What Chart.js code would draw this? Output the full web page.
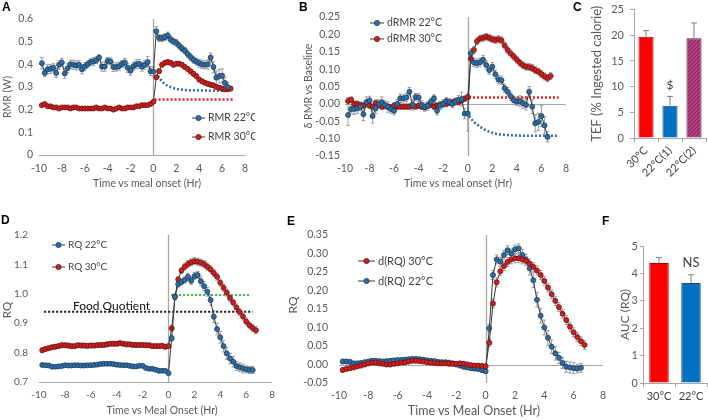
<!DOCTYPE html>
<html>
<head>
<meta charset="utf-8">
<title>Thermic effect of feeding</title>
<script src="https://cdn.jsdelivr.net/npm/chart.js@4.4.1/dist/chart.umd.min.js"></script>
<style>
  body { margin: 0; background: #fff; }
  #page { position: relative; width: 708px; height: 420px; overflow: hidden; background: #fff; font-family: Lato, "Open Sans", sans-serif; }
  #page canvas { position: absolute; }
  .tag { position: absolute; font: bold 12px Arial, sans-serif; color: #000; }
  .ax { position: absolute; color: #595959; white-space: nowrap; transform: translate(-50%, -50%); line-height: 1; }
  .ax.v { transform: translate(-50%, -50%) rotate(-90deg); }
</style>
</head>
<body>
<div id="page">
  <canvas id="chartA" width="255" height="200" style="left:0;top:0"></canvas>
  <canvas id="chartB" width="275" height="200" style="left:300px;top:0"></canvas>
  <canvas id="chartC" width="123" height="208" style="left:585px;top:-3px"></canvas>
  <canvas id="chartD" width="282" height="205" style="left:0;top:215px"></canvas>
  <canvas id="chartE" width="328" height="205" style="left:284px;top:215px"></canvas>
  <canvas id="chartF" width="98" height="205" style="left:610px;top:215px"></canvas>

  <div class="ax v" style="left:7px;top:97px;font-size:10.5px">RMR (W)</div>
  <div class="ax" style="left:147px;top:183px;font-size:10.5px">Time vs meal onset (Hr)</div>
  <div class="ax v" style="left:308px;top:86px;font-size:10.5px">δ RMR vs Baseline</div>
  <div class="ax" style="left:458px;top:183px;font-size:10.5px">Time vs meal onset (Hr)</div>
  <div class="ax v" style="left:7px;top:310px;font-size:11.5px">RQ</div>
  <div class="ax" style="left:162px;top:410px;font-size:10.5px">Time vs Meal Onset (Hr)</div>
  <div class="ax v" style="left:293px;top:305px;font-size:12px">RQ</div>
  <div class="ax" style="left:474px;top:411px;font-size:12.5px">Time vs Meal Onset (Hr)</div>

  <div class="tag" style="left:2px;top:0">A</div>
  <div class="tag" style="left:299px;top:0">B</div>
  <div class="tag" style="left:573px;top:0">C</div>
  <div class="tag" style="left:1px;top:213px">D</div>
  <div class="tag" style="left:287px;top:214px">E</div>
  <div class="tag" style="left:602px;top:214px">F</div>
</div>
<script>
// --- 1. DATA ---
// time vs meal onset (h), one reading every 15 min
const times = [
  -9.75,-9.5,-9.25,-9,-8.75,-8.5,-8.25,-8,-7.75,-7.5,
  -7.25,-7,-6.75,-6.5,-6.25,-6,-5.75,-5.5,-5.25,-5,
  -4.75,-4.5,-4.25,-4,-3.75,-3.5,-3.25,-3,-2.75,-2.5,
  -2.25,-2,-1.75,-1.5,-1.25,-1,-0.75,-0.5,-0.25,0,
  0.25,0.5,0.75,1,1.25,1.5,1.75,2,2.25,2.5,
  2.75,3,3.25,3.5,3.75,4,4.25,4.5,4.75,5,
  5.25,5.5,5.75,6,6.25,6.5,6.75
];
const timeTicks = [-10, -8, -6, -4, -2, 0, 2, 4, 6, 8];

// panel A: RMR (W)
const rmr22 = [
  0.405,0.362,0.378,0.38,0.385,0.362,0.398,0.408,0.36,0.383,
  0.4,0.398,0.395,0.398,0.378,0.39,0.4,0.41,0.412,0.418,
  0.43,0.39,0.39,0.415,0.413,0.388,0.388,0.392,0.402,0.408,
  0.385,0.372,0.392,0.4,0.402,0.39,0.398,0.41,0.37,0.368,
  0.546,0.516,0.516,0.52,0.527,0.51,0.501,0.495,0.482,0.47,
  0.46,0.445,0.432,0.42,0.412,0.405,0.4,0.398,0.4,0.43,
  0.388,0.341,0.348,0.35,0.318,0.3,null
];
const rmr22Err = [
  0.025,0.015,0.02,0.02,0.018,0.02,0.02,0.018,0.022,0.02,
  0.018,0.02,0.02,0.018,0.02,0.018,0.015,0.015,0.018,0.015,
  0.012,0.02,0.02,0.015,0.015,0.02,0.018,0.018,0.015,0.018,
  0.02,0.02,0.018,0.02,0.02,0.02,0.02,0.025,0.02,0.02,
  0.02,0.015,0.015,0.015,0.015,0.015,0.015,0.015,0.015,0.015,
  0.015,0.015,0.015,0.015,0.015,0.018,0.018,0.018,0.02,0.02,
  0.025,0.03,0.03,0.03,0.025,0.02,null
];
const rmr30 = [
  0.22,0.225,0.215,0.215,0.21,0.21,0.205,0.21,0.21,0.21,
  0.205,0.21,0.21,0.205,0.205,0.205,0.205,0.205,0.205,0.21,
  0.205,0.205,0.21,0.205,0.205,0.2,0.205,0.21,0.205,0.205,
  0.21,0.21,0.21,0.215,0.215,0.22,0.22,0.22,0.225,0.235,
  0.343,0.37,0.398,0.407,0.41,0.407,0.398,0.403,0.403,0.398,
  0.388,0.38,0.369,0.358,0.348,0.333,0.325,0.319,0.314,0.31,
  0.307,0.3,0.297,0.293,0.29,0.29,0.293
];
const rmr30Err = [
  0.004,0.004,0.004,0.004,0.004,0.004,0.004,0.004,0.004,0.004,
  0.004,0.004,0.004,0.004,0.004,0.004,0.004,0.004,0.004,0.004,
  0.004,0.004,0.004,0.004,0.004,0.004,0.004,0.004,0.004,0.004,
  0.004,0.004,0.004,0.004,0.004,0.004,0.004,0.004,0.004,0.005,
  0.008,0.01,0.01,0.01,0.01,0.01,0.01,0.01,0.01,0.01,
  0.01,0.01,0.01,0.01,0.01,0.01,0.01,0.01,0.01,0.01,
  0.01,0.01,0.01,0.01,0.01,0.01,0.01
];
const baseA22X = [0.4, 0.75, 1, 1.5, 2, 2.5, 3, 4, 5, 6, 6.6];
const baseA22 = [0.35, 0.325, 0.313, 0.3, 0.292, 0.288, 0.286, 0.285, 0.284, 0.284, 0.284];
const baseA30X = [0.1, 7.1];
const baseA30 = [0.245, 0.245];

// panel B: change of RMR vs baseline
const dRmr22 = [
  -0.032,-0.015,-0.015,-0.013,-0.008,-0.03,0.005,0.01,-0.035,-0.013,
  0.0,0.005,-0.003,-0.009,-0.015,-0.02,0.0,0.016,0.016,0.018,
  0.035,-0.003,0.02,0.018,-0.003,-0.009,-0.006,0.006,0.016,-0.02,
  -0.005,0.0,0.008,0.005,0.0,0.006,0.012,0.014,-0.028,-0.028,
  0.146,0.119,0.117,0.12,0.127,0.112,0.097,0.107,0.085,0.07,
  0.068,0.045,0.035,0.022,0.01,0.007,0.008,0.002,-0.003,0.035,
  -0.008,-0.056,-0.052,-0.035,-0.062,-0.095,null
];
const dRmr22Err = [
  0.03,0.012,0.015,0.015,0.012,0.018,0.015,0.012,0.02,0.015,
  0.012,0.015,0.012,0.015,0.012,0.012,0.012,0.012,0.01,0.012,
  0.012,0.015,0.01,0.012,0.012,0.012,0.012,0.01,0.01,0.012,
  0.012,0.012,0.01,0.01,0.01,0.01,0.012,0.02,0.015,0.05,
  0.012,0.012,0.012,0.012,0.012,0.012,0.012,0.012,0.012,0.012,
  0.012,0.012,0.012,0.012,0.012,0.012,0.015,0.015,0.015,0.015,
  0.02,0.025,0.025,0.03,0.025,0.015,null
];
const dRmr30 = [
  0.008,0.012,0.0,0.0,-0.003,-0.005,0.003,-0.005,-0.008,0.003,
  -0.003,-0.008,-0.005,-0.008,-0.01,-0.005,-0.008,-0.008,-0.008,-0.008,
  -0.008,-0.005,-0.008,-0.005,-0.008,-0.01,-0.005,-0.003,-0.008,-0.005,
  -0.003,0.0,0.0,0.003,0.005,0.008,0.005,0.01,0.015,0.02,
  0.13,0.155,0.18,0.188,0.19,0.193,0.19,0.186,0.184,0.186,
  0.183,0.168,0.155,0.145,0.136,0.127,0.118,0.111,0.107,0.106,
  0.103,0.097,0.093,0.086,0.079,0.074,0.08
];
const dRmr30Err = [
  0.01,0.008,0.008,0.008,0.008,0.008,0.008,0.008,0.008,0.008,
  0.008,0.008,0.008,0.008,0.008,0.008,0.008,0.008,0.008,0.008,
  0.008,0.008,0.008,0.008,0.008,0.008,0.008,0.008,0.008,0.008,
  0.008,0.008,0.008,0.008,0.008,0.008,0.008,0.008,0.008,0.008,
  0.01,0.01,0.01,0.01,0.01,0.01,0.01,0.01,0.01,0.01,
  0.01,0.01,0.01,0.01,0.01,0.01,0.01,0.01,0.01,0.01,
  0.01,0.01,0.01,0.01,0.01,0.01,0.01
];
const baseB22X = [0.1, 0.5, 1, 1.5, 2, 2.5, 3, 4, 5, 6, 7.4];
const baseB22 = [-0.035, -0.052, -0.066, -0.076, -0.083, -0.087, -0.089, -0.091, -0.092, -0.092, -0.092];
const baseB30X = [0.1, 7.4];
const baseB30 = [0.018, 0.018];

// panel C: TEF (% ingested calorie)
const tefLabels = ['30°C', '22°C(1)', '22°C(2)'];
const tefValues = [19.7, 6.3, 19.4];
const tefErr = [1.2, 1.8, 3.0];

// panel D: RQ
const rq22 = [
  0.758,0.757,0.756,0.752,0.752,0.753,0.754,0.757,0.756,0.756,
  0.757,0.757,0.756,0.756,0.757,0.757,0.758,0.759,0.761,0.762,
  0.762,0.762,0.761,0.759,0.758,0.757,0.757,0.755,0.753,0.753,
  0.755,0.755,0.748,0.745,0.745,0.742,0.738,0.738,0.738,0.73,
  0.849,0.99,1.033,1.04,1.047,1.058,1.044,1.06,1.064,1.043,
  1.026,1.007,0.979,0.922,0.88,0.852,0.822,0.797,0.78,0.769,
  0.754,0.75,0.746,0.743,0.741,0.741,null
];
const rq22Err = [
  0.005,0.005,0.005,0.005,0.005,0.005,0.005,0.005,0.005,0.005,
  0.005,0.005,0.005,0.005,0.005,0.005,0.005,0.005,0.005,0.005,
  0.005,0.005,0.005,0.005,0.005,0.005,0.005,0.005,0.005,0.005,
  0.005,0.005,0.005,0.005,0.005,0.005,0.005,0.005,0.005,0.005,
  0.01,0.01,0.01,0.01,0.01,0.012,0.012,0.012,0.012,0.015,
  0.015,0.015,0.018,0.02,0.02,0.02,0.02,0.02,0.018,0.018,
  0.015,0.015,0.015,0.012,0.012,0.012,null
];
const rq30 = [
  0.808,0.812,0.815,0.818,0.82,0.822,0.825,0.825,0.824,0.822,
  0.822,0.825,0.824,0.824,0.823,0.824,0.824,0.825,0.826,0.826,
  0.828,0.83,0.83,0.83,0.832,0.83,0.828,0.828,0.826,0.826,
  0.826,0.826,0.825,0.825,0.822,0.822,0.822,0.823,0.82,0.822,
  0.883,0.99,1.049,1.079,1.092,1.101,1.107,1.111,1.109,1.106,
  1.101,1.092,1.083,1.071,1.058,1.038,1.021,1.004,0.986,0.97,
  0.953,0.938,0.923,0.906,0.893,0.884,0.876
];
const rq30Err = [
  0.008,0.008,0.008,0.008,0.008,0.008,0.008,0.008,0.008,0.008,
  0.008,0.008,0.008,0.008,0.008,0.008,0.008,0.008,0.008,0.008,
  0.008,0.008,0.008,0.008,0.008,0.008,0.008,0.008,0.008,0.008,
  0.008,0.008,0.008,0.008,0.008,0.008,0.008,0.008,0.008,0.008,
  0.01,0.01,0.01,0.01,0.012,0.012,0.012,0.012,0.012,0.012,
  0.012,0.012,0.012,0.012,0.012,0.012,0.012,0.012,0.012,0.012,
  0.012,0.012,0.012,0.012,0.012,0.012,0.012
];
const foodQuotX = [-9.6, 6.5];
const foodQuot = [0.939, 0.939];
const rqTopX = [0.2, 6.3];
const rqTop = [0.996, 0.996];

// panel E: change of RQ
const dRq30 = [
  -0.015,-0.012,-0.01,-0.008,-0.005,-0.003,0.0,0.003,0.005,0.005,
  0.003,0.002,0.0,0.0,0.002,0.003,0.005,0.006,0.008,0.01,
  0.01,0.009,0.008,0.006,0.005,0.004,0.003,0.003,0.003,0.002,
  0.002,0.002,0.003,0.002,0.0,-0.002,-0.003,-0.003,-0.004,-0.005,
  0.059,0.165,0.222,0.252,0.266,0.277,0.284,0.287,0.287,0.284,
  0.28,0.273,0.264,0.254,0.242,0.226,0.208,0.19,0.172,0.155,
  0.137,0.12,0.102,0.087,0.074,0.063,0.053
];
const dRq30Err = [
  0.006,0.006,0.006,0.006,0.006,0.006,0.006,0.006,0.006,0.006,
  0.006,0.006,0.006,0.006,0.006,0.006,0.006,0.006,0.006,0.006,
  0.006,0.006,0.006,0.006,0.006,0.006,0.006,0.006,0.006,0.006,
  0.006,0.006,0.006,0.006,0.006,0.006,0.006,0.006,0.006,0.006,
  0.01,0.012,0.012,0.012,0.012,0.012,0.012,0.012,0.012,0.012,
  0.012,0.012,0.012,0.012,0.012,0.012,0.012,0.012,0.012,0.012,
  0.012,0.012,0.012,0.012,0.012,0.012,0.012
];
const dRq22 = [
  0.008,0.008,0.007,0.003,0.003,0.004,0.006,0.008,0.01,0.01,
  0.009,0.008,0.009,0.01,0.011,0.012,0.012,0.013,0.014,0.015,
  0.015,0.014,0.013,0.011,0.01,0.009,0.007,0.006,0.006,0.005,
  0.003,0.0,-0.003,-0.006,-0.008,-0.01,-0.011,-0.012,-0.015,-0.018,
  0.098,0.242,0.284,0.278,0.296,0.309,0.3,0.311,0.314,0.296,
  0.283,0.26,0.228,0.175,0.132,0.1,0.072,0.048,0.03,0.018,
  0.004,-0.006,-0.008,-0.01,-0.011,-0.009,null
];
const dRq22Err = [
  0.006,0.006,0.006,0.006,0.006,0.006,0.006,0.006,0.006,0.006,
  0.006,0.006,0.006,0.006,0.006,0.006,0.006,0.006,0.006,0.006,
  0.006,0.006,0.006,0.006,0.006,0.006,0.006,0.006,0.006,0.006,
  0.006,0.006,0.006,0.006,0.006,0.006,0.006,0.006,0.006,0.006,
  0.01,0.012,0.012,0.012,0.012,0.012,0.012,0.012,0.012,0.015,
  0.015,0.018,0.02,0.02,0.02,0.02,0.02,0.018,0.018,0.015,
  0.015,0.015,0.015,0.015,0.012,0.012,null
];

// panel F: AUC of RQ
const aucLabels = ['30°C', '22°C'];
const aucValues = [4.38, 3.65];
const aucErr = [0.2, 0.3];

// --- 2. STYLE ---
const FONT = 'Lato, "Open Sans", sans-serif';
const GREY = '#595959';
const BLUE = '#2E6DA4', BLUE_EDGE = '#1B3C5E';
const RED = '#CC1F1F', RED_EDGE = '#6E1010';
Chart.defaults.font.family = FONT;

function pts(ys, xs) {
  xs = xs || times;
  return xs.map((x, i) => ({ x: x, y: ys[i] }));
}

function markers(label, ys, errs, fill, edge) {
  return {
    label: label, data: pts(ys), err: errs, order: 1,
    borderColor: '#383838', borderWidth: 1, tension: 0,
    pointRadius: 2.5, pointBackgroundColor: fill, pointBorderColor: edge, pointBorderWidth: 0.8
  };
}

function dotted(xs, ys, color, width) {
  return {
    label: '', data: pts(ys, xs), order: 5,
    borderColor: color, borderWidth: width, borderDash: [2, 2], borderCapStyle: 'butt',
    pointRadius: 0, cubicInterpolationMode: 'monotone'
  };
}

// axis lines, error bars, legends and notes
const decor = {
  id: 'decor',
  beforeDatasetsDraw(chart, args, o) {
    const ctx = chart.ctx, a = chart.chartArea, sx = chart.scales.x, sy = chart.scales.y;
    ctx.save();
    ctx.strokeStyle = '#A6A6A6';
    if (o.hLine !== undefined) {
      const py = Math.round(sy.getPixelForValue(o.hLine)) + 0.5;
      ctx.lineWidth = 1;
      ctx.beginPath(); ctx.moveTo(a.left, py); ctx.lineTo(a.right, py); ctx.stroke();
    }
    if (o.vLine !== undefined) {
      const px = Math.round(sx.getPixelForValue(o.vLine)) + 0.5;
      ctx.lineWidth = 1.3;
      ctx.beginPath(); ctx.moveTo(px, a.top); ctx.lineTo(px, a.bottom); ctx.stroke();
    }
    ctx.lineWidth = 1;
    ctx.strokeStyle = o.errColor || '#9C9C9C';
    const cap = o.cap || 1.8;
    chart.data.datasets.forEach((ds, i) => {
      if (!ds.err) return;
      chart.getDatasetMeta(i).data.forEach((el, j) => {
        const raw = ds.data[j];
        const v = (raw !== null && typeof raw === 'object') ? raw.y : raw;
        const e = ds.err[j];
        if (v == null || e == null) return;
        const top = sy.getPixelForValue(v + e);
        const bot = sy.getPixelForValue(o.upOnly ? v : v - e);
        ctx.beginPath();
        ctx.moveTo(el.x, top); ctx.lineTo(el.x, bot);
        ctx.moveTo(el.x - cap, top); ctx.lineTo(el.x + cap, top);
        if (!o.upOnly) { ctx.moveTo(el.x - cap, bot); ctx.lineTo(el.x + cap, bot); }
        ctx.stroke();
      });
    });
    ctx.restore();
  },
  afterDraw(chart, args, o) {
    const ctx = chart.ctx;
    ctx.save();
    if (o.legend) {
      const L = o.legend;
      L.items.forEach((di, k) => {
        const ds = chart.data.datasets[di];
        const yy = L.y[k];
        ctx.strokeStyle = '#383838'; ctx.lineWidth = 1;
        ctx.beginPath(); ctx.moveTo(L.x, yy); ctx.lineTo(L.x + L.len, yy); ctx.stroke();
        ctx.beginPath(); ctx.arc(L.x + L.len / 2, yy, 2.6, 0, Math.PI * 2);
        ctx.fillStyle = ds.pointBackgroundColor; ctx.fill();
        ctx.strokeStyle = ds.pointBorderColor; ctx.lineWidth = 0.8; ctx.stroke();
        ctx.fillStyle = '#404040';
        ctx.font = L.size + 'px ' + FONT;
        ctx.textAlign = 'left'; ctx.textBaseline = 'middle';
        ctx.fillText(ds.label, L.x + L.len + 3, yy);
      });
    }
    (o.notes || []).forEach(n => {
      ctx.fillStyle = n.color || '#404040';
      ctx.font = n.size + 'px ' + FONT;
      ctx.textAlign = 'center'; ctx.textBaseline = 'middle';
      ctx.fillText(n.text, chart.scales.x.getPixelForValue(n.x), chart.scales.y.getPixelForValue(n.y));
    });
    ctx.restore();
  }
};

// --- 3. TIME-COURSE PANELS ---
function timePanel(id, datasets, c) {
  return new Chart(document.getElementById(id), {
    type: 'line',
    data: { datasets: datasets },
    plugins: [decor],
    options: {
      responsive: false, animation: false, events: [],
      layout: { padding: c.pad },
      plugins: { legend: { display: false }, tooltip: { enabled: false }, decor: c.decor },
      scales: {
        x: {
          type: 'linear', min: -10, max: 8,
          afterFit: s => { s.height = c.xh; },
          afterBuildTicks: s => { s.ticks = timeTicks.map(v => ({ value: v })); },
          grid: { display: false, drawTicks: false }, border: { display: false },
          ticks: { color: GREY, font: { size: c.tickSize }, padding: c.xTickPad, maxRotation: 0, autoSkip: false }
        },
        y: {
          min: c.yMin, max: c.yMax,
          afterFit: s => { s.width = c.yw; },
          grid: { display: false, drawTicks: false }, border: { display: false },
          ticks: { stepSize: c.step, color: GREY, font: { size: c.tickSize }, padding: c.yTickPad, callback: c.fmt }
        }
      }
    }
  });
}

const fix2 = v => (Math.abs(v) < 1e-9 ? 0 : v).toFixed(2);

timePanel('chartA', [
  markers('RMR 22°C', rmr22, rmr22Err, BLUE, BLUE_EDGE),
  markers('RMR 30°C', rmr30, rmr30Err, RED, RED_EDGE),
  dotted(baseA22X, baseA22, BLUE, 2.5),
  dotted(baseA30X, baseA30, '#E52222', 2.5)
], {
  pad: { left: 0, top: 19, right: 4, bottom: 0 }, yw: 39, xh: 45,
  yMin: 0, yMax: 0.6, step: 0.1, fmt: v => String(+v.toFixed(1)),
  tickSize: 10.5, xTickPad: 7, yTickPad: 6,
  decor: { hLine: 0, vLine: 0, legend: { x: 192, len: 13, y: [118, 137], items: [0, 1], size: 10.5 } }
});

timePanel('chartB', [
  markers('dRMR 22°C', dRmr22, dRmr22Err, BLUE, BLUE_EDGE),
  markers('dRMR 30°C', dRmr30, dRmr30Err, RED, RED_EDGE),
  dotted(baseB22X, baseB22, BLUE, 2.5),
  dotted(baseB30X, baseB30, '#E52222', 2.5)
], {
  pad: { left: 0, top: 17, right: 5, bottom: 0 }, yw: 45, xh: 44,
  yMin: -0.15, yMax: 0.25, step: 0.05, fmt: fix2,
  tickSize: 10.5, xTickPad: 6, yTickPad: 5,
  decor: { hLine: 0, vLine: 0, legend: { x: 70, len: 14, y: [23, 39], items: [0, 1], size: 10.5 } }
});

timePanel('chartD', [
  markers('RQ 22°C', rq22, rq22Err, BLUE, BLUE_EDGE),
  markers('RQ 30°C', rq30, rq30Err, RED, RED_EDGE),
  dotted(foodQuotX, foodQuot, '#111111', 2),
  dotted(rqTopX, rqTop, '#2DBE4A', 2)
], {
  pad: { left: 0, top: 20, right: 4, bottom: 0 }, yw: 39, xh: 38,
  yMin: 0.7, yMax: 1.2, step: 0.1, fmt: v => v.toFixed(1),
  tickSize: 10, xTickPad: 7, yTickPad: 11,
  decor: {
    hLine: 0.7, vLine: 0,
    legend: { x: 52, len: 13, y: [30, 52], items: [0, 1], size: 10 },
    notes: [{ text: 'Food Quotient', x: -4.4, y: 0.957, size: 12, color: '#111' }]
  }
});

timePanel('chartE', [
  markers('d(RQ) 30°C', dRq30, dRq30Err, RED, RED_EDGE),
  markers('d(RQ) 22°C', dRq22, dRq22Err, BLUE, BLUE_EDGE)
], {
  pad: { left: 0, top: 20, right: 3, bottom: 0 }, yw: 55, xh: 37,
  yMin: -0.05, yMax: 0.35, step: 0.05, fmt: fix2,
  tickSize: 10.5, xTickPad: 6, yTickPad: 11,
  decor: { hLine: 0, vLine: 0, legend: { x: 74, len: 17, y: [46, 66], items: [0, 1], size: 11 } }
});

// --- 4. BAR PANELS ---
function hatch() {
  const c = document.createElement('canvas');
  c.width = 4; c.height = 4;
  const g = c.getContext('2d');
  g.fillStyle = '#7A2D78';
  g.fillRect(0, 0, 4, 4);
  g.strokeStyle = '#D9466E';
  g.lineWidth = 1.3;
  g.beginPath();
  g.moveTo(-1, 1); g.lineTo(1, -1);
  g.moveTo(0, 4); g.lineTo(4, 0);
  g.moveTo(3, 5); g.lineTo(5, 3);
  g.stroke();
  return g.createPattern(c, 'repeat');
}

function barPanel(id, labels, values, errs, c) {
  return new Chart(document.getElementById(id), {
    type: 'bar',
    data: {
      labels: labels,
      datasets: [{
        data: values, err: errs,
        backgroundColor: c.colors, borderColor: c.edges, borderWidth: 1,
        barPercentage: c.barPct, categoryPercentage: 1
      }]
    },
    plugins: [decor],
    options: {
      responsive: false, animation: false, events: [],
      layout: { padding: c.pad },
      plugins: { legend: { display: false }, tooltip: { enabled: false }, decor: c.decor },
      scales: {
        x: {
          afterFit: s => { s.height = c.xh; },
          grid: { display: true, drawOnChartArea: false, tickLength: 4, color: '#A6A6A6', offset: true },
          border: { display: true, color: '#A6A6A6' },
          ticks: { color: '#404040', font: { size: 11 }, padding: c.xTickPad, minRotation: c.rot, maxRotation: c.rot, autoSkip: false }
        },
        y: {
          min: 0, max: c.yMax,
          afterFit: s => { s.width = c.yw; },
          grid: { display: true, drawOnChartArea: false, tickLength: c.tickLen, color: '#A6A6A6' },
          border: { display: true, color: '#A6A6A6' },
          ticks: { stepSize: c.step, color: GREY, font: { size: 11 }, padding: c.yTickPad },
          title: { display: true, text: c.yTitle, color: GREY, font: { size: c.yTitleSize }, padding: { top: c.yTitlePad, bottom: 0 } }
        }
      }
    }
  });
}

barPanel('chartC', tefLabels, tefValues, tefErr, {
  colors: ['#FF0000', '#0070C0', hatch()], edges: ['#B00000', '#1F4E79', '#5A2050'],
  barPct: 0.63, pad: { left: 0, top: 7, right: 2, bottom: 3 }, yw: 49, xh: 64,
  rot: 45, xTickPad: 2, yMax: 25, step: 5, tickLen: 4, yTickPad: 6,
  yTitle: 'TEF (% Ingested calorie)', yTitleSize: 13, yTitlePad: 4,
  decor: { upOnly: true, cap: 3, errColor: '#7F7F7F', notes: [{ text: '$', x: 1, y: 10.3, size: 12 }] }
});

barPanel('chartF', aucLabels, aucValues, aucErr, {
  colors: ['#FF0000', '#0070C0'], edges: ['#B00000', '#1F4E79'],
  barPct: 0.61, pad: { left: 0, top: 31, right: 1, bottom: 0 }, yw: 33, xh: 37,
  rot: 0, xTickPad: 3, yMax: 5, step: 1, tickLen: 3, yTickPad: 2,
  yTitle: 'AUC (RQ)', yTitleSize: 12, yTitlePad: 7.8,
  decor: { upOnly: true, cap: 3, errColor: '#7F7F7F', notes: [{ text: 'NS', x: 1, y: 4.4, size: 13 }] }
});
</script>
</body>
</html>
